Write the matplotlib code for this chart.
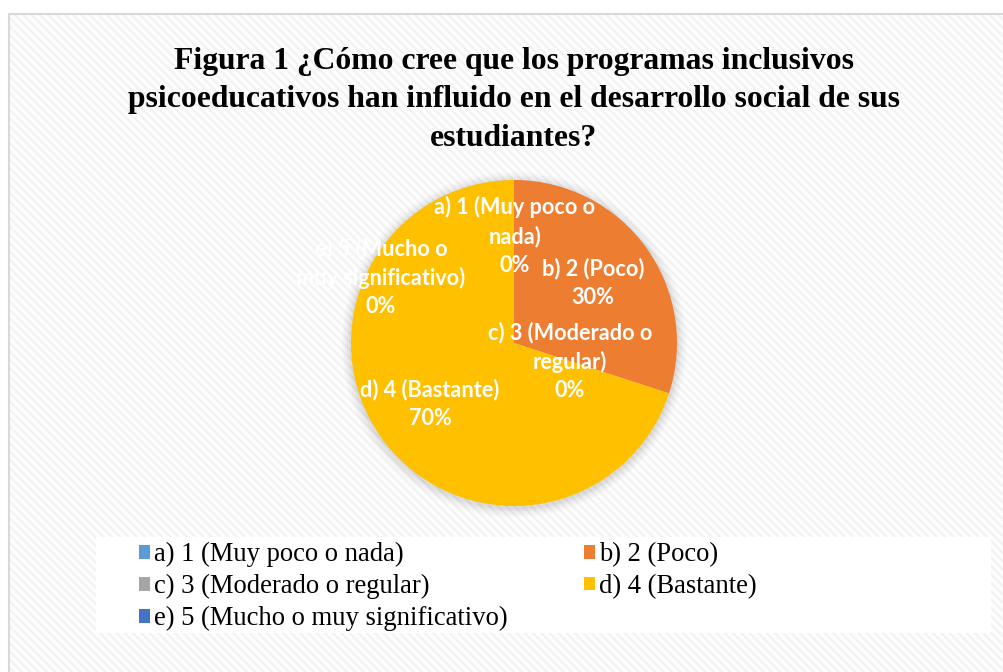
import matplotlib
matplotlib.use("Agg")
import matplotlib.pyplot as plt
from matplotlib.patches import Rectangle, Patch, Circle

# ---- data ----
categories = ["a) 1 (Muy poco o nada)", "b) 2 (Poco)", "c) 3 (Moderado o regular)",
              "d) 4 (Bastante)", "e) 5 (Mucho o muy significativo)"]
values = [0, 30, 0, 70, 0]
label_texts = ["a) 1 (Muy poco o\nnada)\n0%", "b) 2 (Poco)\n30%",
               "c) 3 (Moderado o\nregular)\n0%", "d) 4 (Bastante)\n70%",
               "e) 5 (Mucho o\nmuy significativo)\n0%"]
colors = ["#5B9BD5", "#ED7D31", "#A5A5A5", "#FFC000", "#4472C4"]
title = ("Figura 1 ¿Cómo cree que los programas inclusivos\n"
         "psicoeducativos han influido en el desarrollo social de sus\n"
         "estudiantes?")

plt.rcParams["hatch.color"] = "#f2f2f2"
plt.rcParams["hatch.linewidth"] = 1.5

# ---- layout ----
W, H = 1004, 672
fig = plt.figure(figsize=(W / 100, H / 100), dpi=100)
fig.patch.set_facecolor("white")

def fx(px):
    return px / W

def fy(py):
    return 1 - py / H

# chart area background with diagonal pattern
bg = Rectangle((fx(9), 0), 1 - fx(9), fy(14), transform=fig.transFigure,
               facecolor="#fdfdfd", edgecolor="#f2f2f2", hatch="\\\\\\\\",
               linewidth=0, zorder=-3)
fig.patches.append(bg)
border = Rectangle((fx(9), -0.01), 1.1, fy(14) + 0.01, transform=fig.transFigure,
                   facecolor="none", edgecolor="#d9d9d9", linewidth=1.5, zorder=-2)
fig.patches.append(border)

# legend white box
legbox = Rectangle((fx(96), fy(633)), fx(991) - fx(96), fy(537) - fy(633),
                   transform=fig.transFigure, facecolor="white", edgecolor="none",
                   zorder=-1)
fig.patches.append(legbox)

# title
fig.text(fx(514), fy(100), title, ha="center", va="center", multialignment="center",
         fontsize=22.8, fontweight="bold", family="Liberation Serif", linespacing=1.43,
         color="#000000")

# pie
cx, cy, r = 514, 343, 163
ax = fig.add_axes([fx(cx - r), fy(cy + r), (2 * r) / W, (2 * r) / H])
ax.patch.set_alpha(0)
# soft shadow glow
for i, a in enumerate([0.035, 0.03, 0.025, 0.02, 0.015]):
    ax.add_patch(Circle((0.0, -0.01), 1.0 + 0.012 * (i + 1), facecolor="black",
                        alpha=a, edgecolor="none", zorder=0, clip_on=False))
wedges, _ = ax.pie(values, colors=colors, startangle=90, counterclock=False,
                   radius=1.0, wedgeprops=dict(linewidth=0))
for w in wedges:
    w.set_zorder(2)
ax.set_xlim(-1, 1)
ax.set_ylim(-1, 1)
ax.set_aspect("equal")
ax.axis("off")

label_pos = [(0.006, 0.656), (0.485, 0.368), (0.344, -0.11), (-0.515, -0.374),
             (-0.816, 0.405)]
for txt, (lx, ly) in zip(label_texts, label_pos):
    ax.text(lx, ly, txt, ha="center", va="center", multialignment="center",
            fontsize=15.6, fontweight="bold", family="Lato", color="white",
            linespacing=1.42, zorder=5, clip_on=False)

# legend (row-major order a,b / c,d / e)
handles = [Patch(facecolor=c, edgecolor="none") for c in colors]
order = [0, 2, 4, 1, 3]
leg = fig.legend([handles[i] for i in order], [categories[i] for i in order],
                 ncol=2, loc="upper left", bbox_to_anchor=(fx(131), fy(534)),
                 frameon=False, prop=dict(family="Liberation Serif", size=19.2),
                 handlelength=0.42, handleheight=0.42, handletextpad=0.15,
                 labelspacing=0.26, columnspacing=2.85, borderaxespad=0,
                 borderpad=0.3)

fig.savefig("out.png", dpi=100)
